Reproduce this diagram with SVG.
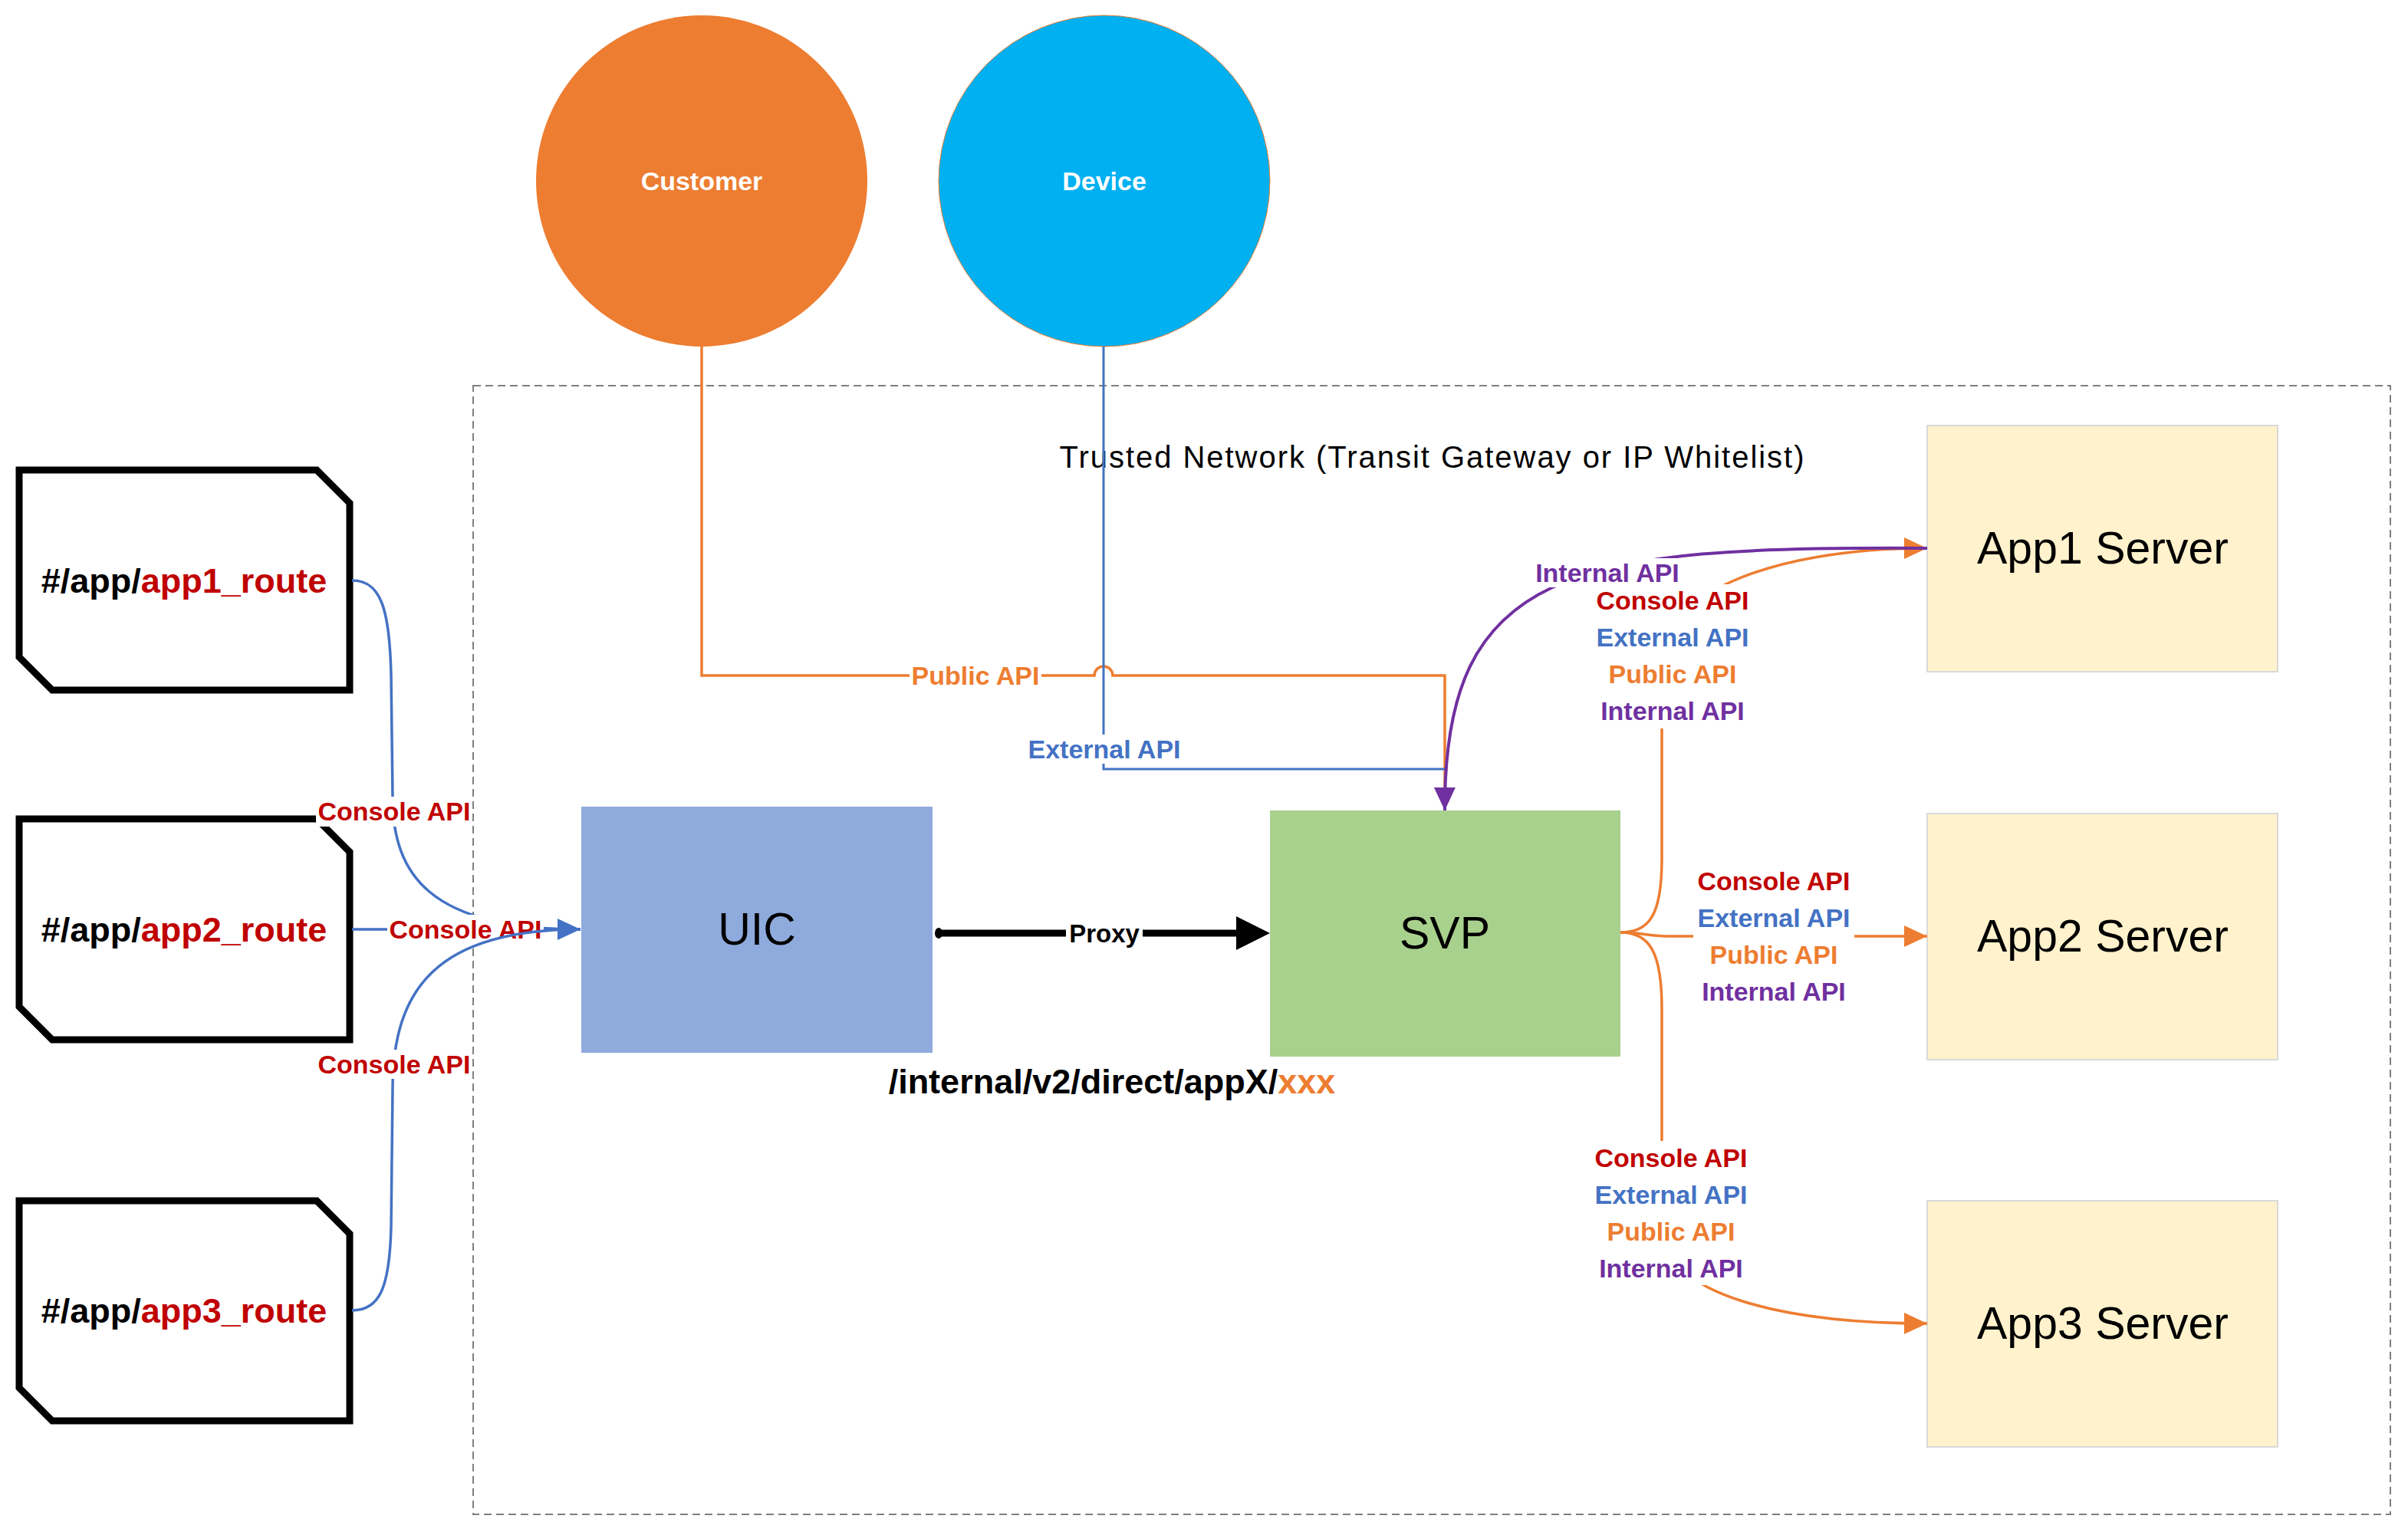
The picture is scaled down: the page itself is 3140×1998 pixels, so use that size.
<svg xmlns="http://www.w3.org/2000/svg" width="3140" height="1998" viewBox="0 0 3140 1998">
<defs>
<style>
text { font-family: "Liberation Sans", Arial, sans-serif; }
.lbl { font-size: 34px; font-weight: bold; text-anchor: middle; dominant-baseline: central; }
.red { fill: #C00000; }
.blue { fill: #4472C4; }
.org { fill: #ED7D31; }
.pur { fill: #7030A0; }
.bg { fill: #FFFFFF; stroke: none; }
.route { fill: #FFFFFF; stroke: #000000; stroke-width: 9; stroke-linejoin: miter; }
.routet { font-size: 45px; font-weight: bold; text-anchor: middle; dominant-baseline: central; fill: #000000; }
.app { fill: #FFF2CC; stroke: #D9D9D9; stroke-width: 2; }
.big { font-size: 59px; text-anchor: middle; dominant-baseline: central; fill: #000000; }
.actor { font-size: 34px; font-weight: bold; text-anchor: middle; dominant-baseline: central; fill: #FFFFFF; }
.cb { fill: none; stroke: #4472C4; stroke-width: 3.5; }
.co { fill: none; stroke: #ED7D31; stroke-width: 3.5; }
.cp { fill: none; stroke: #7030A0; stroke-width: 4; }
</style>
<marker id="arrB" markerUnits="userSpaceOnUse" markerWidth="30" markerHeight="28" refX="30" refY="14" orient="auto"><path d="M0,0 L30,14 L0,28 z" fill="#4472C4"/></marker>
<marker id="arrO" markerUnits="userSpaceOnUse" markerWidth="30" markerHeight="28" refX="30" refY="14" orient="auto"><path d="M0,0 L30,14 L0,28 z" fill="#ED7D31"/></marker>
<marker id="arrP" markerUnits="userSpaceOnUse" markerWidth="30" markerHeight="28" refX="30" refY="14" orient="auto"><path d="M0,0 L30,14 L0,28 z" fill="#7030A0"/></marker>
</defs>
<rect x="0" y="0" width="3140" height="1998" fill="#FFFFFF"/>

<g id="trusted-network">
<rect x="617" y="503" width="2500" height="1472" fill="none" stroke="#7F7F7F" stroke-width="2" stroke-dasharray="10 6"/>
<text x="1867" y="596" font-size="40" text-anchor="middle" dominant-baseline="central" fill="#000000" textLength="971">Trusted Network (Transit Gateway or IP Whitelist)</text>
</g>

<g id="customer">
<circle cx="915" cy="236" r="216" fill="#ED7D31"/>
<text class="actor" x="915" y="236">Customer</text>
</g>
<g id="device">
<circle cx="1440" cy="236" r="216" fill="#00B0F0" stroke="#ED7D31" stroke-width="1"/>
<text class="actor" x="1440" y="236">Device</text>
</g>

<g id="route1">
<path class="route" d="M25,613 L413,613 L456,656 L456,900 L68,900 L25,857 Z"/>
<text class="routet" x="240" y="757">#/app/<tspan class="red">app1_route</tspan></text>
</g>
<g id="route2">
<path class="route" d="M25,1068 L413,1068 L456,1111 L456,1356 L68,1356 L25,1313 Z"/>
<text class="routet" x="240" y="1212">#/app/<tspan class="red">app2_route</tspan></text>
</g>
<g id="route3">
<path class="route" d="M25,1566 L413,1566 L456,1609 L456,1853 L68,1853 L25,1810 Z"/>
<text class="routet" x="240" y="1709">#/app/<tspan class="red">app3_route</tspan></text>
</g>

<g id="uic">
<rect x="758" y="1052" width="458" height="321" fill="#8FAADC"/>
<text class="big" x="987" y="1212">UIC</text>
</g>
<g id="svp">
<rect x="1656" y="1057" width="457" height="321" fill="#A9D18E"/>
<text class="big" x="1884" y="1217">SVP</text>
</g>
<g id="app1">
<rect class="app" x="2513" y="555" width="457" height="321"/>
<text class="big" x="2742" y="715">App1 Server</text>
</g>
<g id="app2">
<rect class="app" x="2513" y="1061" width="457" height="321"/>
<text class="big" x="2742" y="1221">App2 Server</text>
</g>
<g id="app3">
<rect class="app" x="2513" y="1566" width="457" height="321"/>
<text class="big" x="2742" y="1726">App3 Server</text>
</g>

<g id="connectors">
<path class="co" d="M915,452 L915,881 L1427,881 A12,12 0 0 1 1451,881 L1884,881 L1884,1045"/>
<rect class="bg" x="1186" y="862" width="172" height="38"/>
<text class="lbl org" x="1272" y="881">Public API</text>
<path class="cb" style="stroke-width:3" d="M1439,452 L1439,1003 L1884,1003"/>
<rect class="bg" x="1338" y="958" width="204" height="38"/>
<text class="lbl blue" x="1440" y="977">External API</text>

<path class="co" marker-end="url(#arrO)" d="M2113,1216 C2150,1216 2167,1195 2167,1120 L2167,860 C2167,780 2300,715 2513,715"/>
<path class="co" marker-end="url(#arrO)" d="M2113,1216 C2140,1216 2150,1221 2180,1221 L2513,1221"/>
<path class="co" marker-end="url(#arrO)" d="M2113,1216 C2150,1216 2167,1240 2167,1315 L2167,1600 C2167,1690 2330,1726 2513,1726"/>

<path class="cp" marker-end="url(#arrP)" d="M2513,715 C2050,712 1883,740 1884,1057"/>
<rect class="bg" x="1992" y="728" width="208" height="38"/>
<text class="lbl pur" x="2096" y="747">Internal API</text>

<rect class="bg" x="2076" y="762" width="210" height="188"/>
<text class="lbl red" x="2181" y="783">Console API</text>
<text class="lbl blue" x="2181" y="831">External API</text>
<text class="lbl org" x="2181" y="879">Public API</text>
<text class="lbl pur" x="2181" y="927">Internal API</text>

<rect class="bg" x="2208" y="1127" width="210" height="188"/>
<text class="lbl red" x="2313" y="1149">Console API</text>
<text class="lbl blue" x="2313" y="1197">External API</text>
<text class="lbl org" x="2313" y="1245">Public API</text>
<text class="lbl pur" x="2313" y="1293">Internal API</text>

<rect class="bg" x="2074" y="1488" width="210" height="188"/>
<text class="lbl red" x="2179" y="1510">Console API</text>
<text class="lbl blue" x="2179" y="1558">External API</text>
<text class="lbl org" x="2179" y="1606">Public API</text>
<text class="lbl pur" x="2179" y="1654">Internal API</text>

<line x1="1222" y1="1217" x2="1618" y2="1217" stroke="#000000" stroke-width="9"/>
<ellipse cx="1224" cy="1217" rx="5" ry="7" fill="#000000"/>
<polygon points="1612,1195 1656,1217 1612,1239" fill="#000000"/>
<rect class="bg" x="1390" y="1198" width="100" height="38"/>
<text x="1440" y="1217" font-size="33" font-weight="bold" text-anchor="middle" dominant-baseline="central" fill="#000000">Proxy</text>
<text x="1450" y="1410" font-size="45" font-weight="bold" text-anchor="middle" dominant-baseline="central" fill="#000000">/internal/v2/direct/appX/<tspan class="org">xxx</tspan></text>

<path class="cb" d="M459,757 C495,757 508,790 510,880 L512,1040 C512,1140 560,1212 757,1212"/>
<rect class="bg" x="412" y="1039" width="204" height="39"/>
<text class="lbl red" x="514" y="1058">Console API</text>
<path class="cb" marker-end="url(#arrB)" d="M459,1212 L757,1212"/>
<rect class="bg" x="505" y="1193" width="204" height="38"/>
<text class="lbl red" x="607" y="1212">Console API</text>
<path class="cb" d="M459,1709 C495,1709 508,1680 510,1600 L512,1420 C512,1290 570,1212 757,1212"/>
<rect class="bg" x="412" y="1369" width="204" height="38"/>
<text class="lbl red" x="514" y="1388">Console API</text>
</g>
</svg>
